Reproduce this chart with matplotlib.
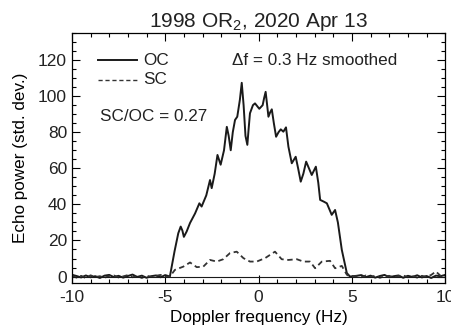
import numpy as np
import matplotlib
matplotlib.use("Agg")
import matplotlib.pyplot as plt
from matplotlib.ticker import MultipleLocator

plt.rcParams['font.family'] = ['Liberation Sans', 'DejaVu Sans']
plt.rcParams['mathtext.fontset'] = 'custom'
plt.rcParams['mathtext.rm'] = 'Liberation Sans'
plt.rcParams['axes.unicode_minus'] = False
plt.rcParams['text.color'] = '#222222'

# noise floor outside the echo band
noise_left_f = [-10.0, -9.75, -9.5, -9.25, -9.0, -8.75, -8.5, -8.25, -8.0, -7.75, -7.5,
                -7.25, -7.0, -6.75, -6.5, -6.25, -6.0, -5.75, -5.5, -5.25, -5.0]
oc_noise_left = [1.0, 0.3, -0.5, 0.6, -0.4, 0.2, -0.8, 0.5, 0.9, -0.3, 0.4,
                 -0.6, 0.3, 1.1, -0.2, 0.5, -0.7, 0.2, 0.6, -0.4, 0.8]
sc_noise_left = [0.5, -0.6, 0.4, -0.9, 0.7, -0.3, 0.2, -0.7, 0.3, 0.6, -0.5,
                 0.1, 0.8, -0.4, 0.3, -0.8, 0.5, -0.2, 0.4, 0.9, -0.3]

noise_right_f = [5.0, 5.25, 5.5, 5.75, 6.0, 6.25, 6.5, 6.75, 7.0, 7.25, 7.5,
                 7.75, 8.0, 8.25, 8.5, 8.75, 9.0, 9.25, 9.5, 9.75, 10.0]
oc_noise_right = [-0.5, 0.4, 0.8, -0.3, 0.5, -0.6, 0.3, 0.9, -0.4, 0.2, 0.6,
                  -0.7, 0.4, -0.2, 0.7, -0.5, 0.3, -0.8, 0.5, 0.2, 0.9]
sc_noise_right = [-0.8, 0.3, -0.4, 0.6, -0.3, 0.5, -0.7, 0.2, 0.4, -0.5, 0.3,
                  0.6, -0.4, 0.2, -0.6, 0.4, -0.2, 0.9, 2.8, 0.4, -0.3]

# OC echo
oc_f = [-4.75, -4.5, -4.3, -4.17, -4.08, -4.0, -3.85, -3.67, -3.4, -3.17, -3.05, -2.8,
        -2.6, -2.51, -2.35, -2.2, -2.03, -1.85, -1.7, -1.6, -1.49, -1.38, -1.26, -1.14,
        -1.0, -0.9, -0.8, -0.7, -0.6, -0.53, -0.46, -0.3, -0.19, 0.04, 0.22, 0.3, 0.38,
        0.45, 0.53, 0.62, 0.71, 0.82, 0.94, 1.07, 1.19, 1.33, 1.47, 1.6, 1.78, 1.99,
        2.12, 2.26, 2.4, 2.55, 2.7, 2.85, 3.07, 3.2, 3.3, 3.5, 3.66, 3.92, 4.1, 4.25,
        4.46, 4.73, 4.9]
oc_p = [0.0, 14.0, 24.0, 27.7, 25.5, 22.0, 25.0, 29.7, 35.0, 40.6, 38.8, 45.0,
        53.5, 49.0, 57.0, 67.4, 62.0, 70.0, 83.0, 78.0, 70.0, 80.0, 86.8, 88.6,
        98.0, 107.4, 95.0, 78.0, 73.0, 82.0, 90.5, 95.0, 96.0, 93.0, 95.0, 99.0, 102.4,
        96.0, 88.6, 91.0, 92.7, 85.0, 77.5, 80.0, 81.6, 80.3, 82.7, 72.0, 62.8, 66.4,
        60.0, 52.6, 57.0, 63.7, 60.0, 56.3, 60.9, 52.0, 42.5, 41.5, 40.6, 34.2, 36.9, 30.0,
        14.8, 1.9, 0.0]

# SC echo
sc_f = [-4.75, -4.48, -4.03, -3.67, -3.31, -2.96, -2.6, -2.24, -1.89, -1.53, -1.17,
        -0.81, -0.46, -0.1, 0.35, 0.88, 1.24, 1.6, 2.05, 2.4, 2.76, 3.03, 3.39, 3.83,
        4.1, 4.46, 4.73, 4.9]
sc_p = [0.0, 3.7, 5.5, 7.8, 5.2, 5.5, 9.2, 8.3, 9.6, 13.0, 13.8,
        10.2, 8.3, 8.3, 10.2, 13.8, 9.6, 9.2, 9.6, 8.3, 8.3, 4.6, 8.3, 8.7,
        4.6, 5.9, 1.0, 0.0]

oc_x = noise_left_f + oc_f + noise_right_f[1:]
oc_y = oc_noise_left + oc_p + oc_noise_right[1:]
sc_x = noise_left_f + sc_f + noise_right_f[1:]
sc_y = sc_noise_left + sc_p + sc_noise_right[1:]

fig = plt.figure(figsize=(4.52, 3.27), dpi=100)
ax = fig.add_axes([0.159, 0.135, 0.826, 0.764])

ax.plot(oc_x, oc_y, color='#1a1a1a', lw=1.4)
ax.plot(sc_x, sc_y, color='#333333', lw=1.3, linestyle=(0, (3, 2)))
ax.axhline(0, color='#1a1a1a', lw=0.8)

ax.set_xlim(-10, 10)
ax.set_ylim(-3.5, 135)
ax.xaxis.set_major_locator(MultipleLocator(5))
ax.xaxis.set_minor_locator(MultipleLocator(1))
ax.yaxis.set_major_locator(MultipleLocator(20))
ax.yaxis.set_minor_locator(MultipleLocator(5))
ax.tick_params(which='both', direction='in', top=True, right=True, labelsize=12.5,
               width=0.8, labelcolor='#222222')
ax.tick_params(which='major', length=6)
ax.tick_params(which='minor', length=3)
ax.tick_params(axis='x', pad=5)
for s in ax.spines.values():
    s.set_linewidth(0.9)

ax.set_xlabel('Doppler frequency (Hz)', fontsize=12.3, labelpad=4)
ax.set_ylabel('Echo power (std. dev.)', fontsize=12.3, labelpad=7)
ax.set_title(r'1998 OR$_2$, 2020 Apr 13', fontsize=15, pad=4)

# legend drawn by hand, IDL style
ax.plot([0.07, 0.174], [0.892, 0.892], transform=ax.transAxes, color='#1a1a1a', lw=1.4)
ax.plot([0.07, 0.174], [0.812, 0.812], transform=ax.transAxes, color='#333333', lw=1.0,
        linestyle=(0, (3, 2)))
ax.text(0.19, 0.892, 'OC', transform=ax.transAxes, fontsize=12.3, va='center')
ax.text(0.19, 0.812, 'SC', transform=ax.transAxes, fontsize=12.3, va='center')
ax.text(0.075, 0.664, 'SC/OC = 0.27', transform=ax.transAxes, fontsize=12.3, va='center')
ax.text(0.429, 0.892, '\u0394f = 0.3 Hz smoothed', transform=ax.transAxes, fontsize=12.3,
        va='center')

fig.savefig('out.png', dpi=100)
